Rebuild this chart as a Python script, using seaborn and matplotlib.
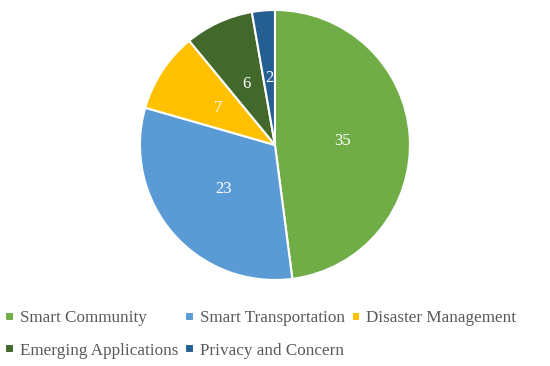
import matplotlib.pyplot as plt
import seaborn as sns

sns.set_theme(style="white")
plt.rcParams["font.family"] = ["Liberation Serif", "DejaVu Serif"]

# data
categories = [
    "Smart Community",
    "Smart Transportation",
    "Disaster Management",
    "Emerging Applications",
    "Privacy and Concern",
]
counts = [35, 23, 7, 6, 2]
colors = ["#70AD47", "#5B9BD5", "#FFC000", "#43682B", "#255E91"]

fig = plt.figure(figsize=(5.5, 3.66), dpi=100)
ax = fig.add_axes([0.2545, 0.235, 0.4909, 0.7377])

total = sum(counts)
wedges, texts, autotexts = ax.pie(
    counts,
    colors=colors,
    startangle=90,
    counterclock=False,
    autopct=lambda p: f"{round(p * total / 100):d}",
    pctdistance=0.5,
    wedgeprops=dict(edgecolor="white", linewidth=1.5),
    textprops=dict(color="white", fontsize=12),
)
ax.set_xlim(-1, 1)
ax.set_ylim(-1, 1)
ax.set_aspect("equal")

# legend in row-major order (matplotlib fills columns first)
order = [0, 3, 1, 4, 2]
leg = fig.legend(
    [wedges[i] for i in order],
    [categories[i] for i in order],
    loc="lower left",
    bbox_to_anchor=(-0.018, -0.022),
    ncol=3,
    frameon=False,
    fontsize=12.3,
    handlelength=0.5,
    handleheight=0.5,
    handletextpad=0.35,
    columnspacing=0.4,
    labelspacing=0.95,
)
for t in leg.get_texts():
    t.set_color("#595959")

fig.savefig("out.png", dpi=100)
